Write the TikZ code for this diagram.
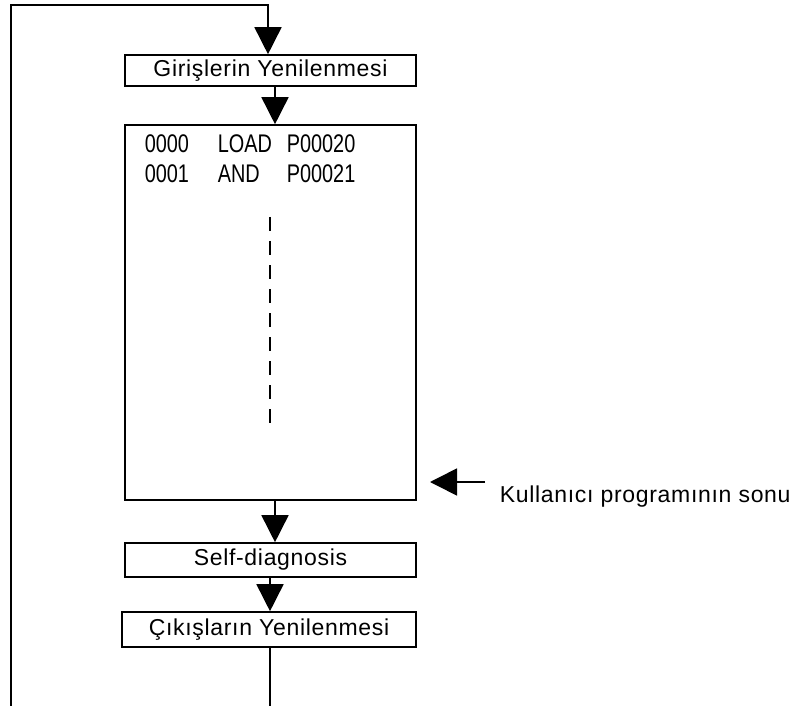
\documentclass[tikz,border=0pt]{standalone}
\usepackage{fontspec}
\setmainfont{Liberation Sans}[LetterSpace=3]
\newfontfamily\codefont{Liberation Sans}[FakeStretch=0.78]
\usetikzlibrary{arrows.meta}
\begin{document}
\begin{tikzpicture}[x=1pt,y=-1pt,
  line width=1.6pt,
  box/.style={draw,line width=1.6pt,minimum width=291pt,inner sep=0pt,
    font=\fontsize{23}{26}\selectfont},
  code/.style={anchor=base west,inner sep=0pt,font=\codefont\fontsize{25.5}{28}\selectfont},
  flow/.style={-{Triangle[width=27pt,length=27pt]}}]
\useasboundingbox (0,0) rectangle (804,706);
\node[box,minimum height=31pt] (b1) at (270.5,70.5) {Girişlerin Yenilenmesi};
\node[box,minimum height=375pt] (big) at (270.5,312.5) {};
\node[box,minimum height=34pt] (self) at (270.5,560) {Self-diagnosis};
\node[box,minimum width=294pt,minimum height=35pt] (out) at (269,629.5) {Çıkışların Yenilenmesi};
% program text
\node[code] (n1) at (144,153) {0000};
\node[code] (o1) at (217,153) {LOAD};
\node[code] (p1) at (286,153) {P00020};
\node[code] (n2) at (144,183) {0001};
\node[code] (o2) at (217,183) {AND};
\node[code] (p2) at (286,183) {P00021};
\coordinate (d1) at (270,217);
\coordinate (d2) at (270,424);
\draw[line width=2.6pt,dash pattern=on 14pt off 10pt] (d1) -- (d2);
% loop
\coordinate (bl) at (11,706);
\coordinate (tl) at (11,5);
\coordinate (tr) at (268,5);
\coordinate (xa) at (275,0);
\coordinate (xb) at (270,0);
\coordinate (be) at (270,706);
\draw[flow] (bl) -- (tl) -- (tr) -- (tr |- b1.north);
\draw[flow] (b1.south -| xa) -- (big.north -| xa);
\draw[flow] (big.south -| xa) -- (self.north -| xa);
\draw[flow] (self.south -| xb) -- (out.north -| xb);
\draw (out.south -| xb) -- (be);
% end of program marker
\coordinate (mtip) at (430,482);
\coordinate (mend) at (485,482);
\draw[flow] (mend) -- (mtip);
\node[anchor=base west,inner sep=0pt,font=\fontsize{23}{26}\selectfont] (lab) at (499,502) {Kullanıcı programının sonu};
\end{tikzpicture}
\end{document}
